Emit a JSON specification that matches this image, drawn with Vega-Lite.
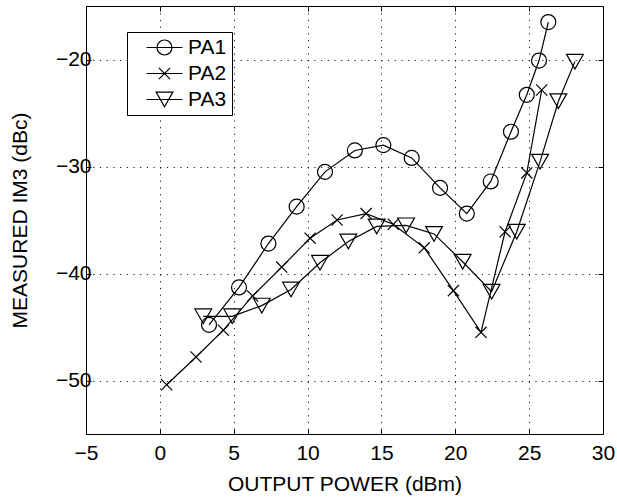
{
  "$schema": "https://vega.github.io/schema/vega-lite/v6.json",
  "width": 517,
  "height": 428,
  "autosize": {"type": "none"},
  "padding": {"left": 86, "top": 6, "right": 14, "bottom": 65},
  "background": "white",
  "config": {
    "font": "Liberation Sans",
    "view": {"stroke": "#000", "strokeWidth": 1},
    "axis": {
      "labelFont": "Liberation Sans",
      "titleFont": "Liberation Sans",
      "labelFontSize": 21,
      "titleFontSize": 21,
      "titleFontWeight": "normal",
      "labelColor": "#000",
      "titleColor": "#000",
      "domain": false,
      "tickColor": "#000",
      "tickSize": -5,
      "gridColor": "#000",
      "gridDash": [1.2, 5.5],
      "gridOpacity": 0.9,
      "gridWidth": 1
    }
  },
  "data": {
    "values": [
      {"series": "PA1", "x": 3.33, "y": -44.8},
      {"series": "PA1", "x": 5.36, "y": -41.3},
      {"series": "PA1", "x": 7.35, "y": -37.2},
      {"series": "PA1", "x": 9.26, "y": -33.75},
      {"series": "PA1", "x": 11.18, "y": -30.5},
      {"series": "PA1", "x": 13.2, "y": -28.5},
      {"series": "PA1", "x": 15.13, "y": -28.0},
      {"series": "PA1", "x": 17.05, "y": -29.2},
      {"series": "PA1", "x": 18.97, "y": -32.0},
      {"series": "PA1", "x": 20.78, "y": -34.4},
      {"series": "PA1", "x": 22.4, "y": -31.4},
      {"series": "PA1", "x": 23.77, "y": -26.75},
      {"series": "PA1", "x": 24.84, "y": -23.3},
      {"series": "PA1", "x": 25.67, "y": -20.1},
      {"series": "PA1", "x": 26.3, "y": -16.5},
      {"series": "PA2", "x": 0.46, "y": -50.4},
      {"series": "PA2", "x": 2.45, "y": -47.8},
      {"series": "PA2", "x": 4.3, "y": -45.3},
      {"series": "PA2", "x": 6.28, "y": -42.1},
      {"series": "PA2", "x": 8.25, "y": -39.4},
      {"series": "PA2", "x": 10.17, "y": -36.7},
      {"series": "PA2", "x": 12.0, "y": -35.0},
      {"series": "PA2", "x": 13.96, "y": -34.4},
      {"series": "PA2", "x": 15.8, "y": -35.4},
      {"series": "PA2", "x": 17.9, "y": -37.6},
      {"series": "PA2", "x": 19.87, "y": -41.6},
      {"series": "PA2", "x": 21.74, "y": -45.5},
      {"series": "PA2", "x": 23.37, "y": -36.1},
      {"series": "PA2", "x": 24.84, "y": -30.6},
      {"series": "PA2", "x": 25.85, "y": -22.85},
      {"series": "PA3", "x": 2.94, "y": -44.0},
      {"series": "PA3", "x": 4.9, "y": -44.0},
      {"series": "PA3", "x": 6.9, "y": -43.0},
      {"series": "PA3", "x": 8.88, "y": -41.5},
      {"series": "PA3", "x": 10.84, "y": -39.0},
      {"series": "PA3", "x": 12.76, "y": -37.0},
      {"series": "PA3", "x": 14.68, "y": -35.6},
      {"series": "PA3", "x": 16.67, "y": -35.5},
      {"series": "PA3", "x": 18.56, "y": -36.3},
      {"series": "PA3", "x": 20.5, "y": -38.9},
      {"series": "PA3", "x": 22.46, "y": -41.7},
      {"series": "PA3", "x": 24.16, "y": -36.1},
      {"series": "PA3", "x": 25.74, "y": -29.55},
      {"series": "PA3", "x": 26.98, "y": -23.9},
      {"series": "PA3", "x": 28.1, "y": -20.2}
    ]
  },
  "layer": [
    {
      "mark": {"type": "line", "color": "#000", "strokeWidth": 1.2},
      "encoding": {
        "x": {
          "field": "x",
          "type": "quantitative",
          "scale": {"domain": [-5, 30], "nice": false, "zero": false},
          "axis": {"orient": "top", "values": [-5, 0, 5, 10, 15, 20, 25, 30], "title": null, "labels": false, "grid": false}
        },
        "y": {
          "field": "y",
          "type": "quantitative",
          "scale": {"domain": [-55, -15], "nice": false, "zero": false},
          "axis": {"orient": "right", "values": [-50, -40, -30, -20], "title": null, "labels": false, "grid": false}
        },
        "detail": {"field": "series"}
      }
    },
    {
      "mark": {"type": "point", "filled": false, "stroke": "#000", "strokeWidth": 1.2, "opacity": 1, "size": 196},
      "encoding": {
        "x": {
          "field": "x",
          "type": "quantitative",
          "scale": {"domain": [-5, 30], "nice": false, "zero": false},
          "axis": {"orient": "bottom", "grid": true, "values": [-5, 0, 5, 10, 15, 20, 25, 30], "title": "OUTPUT POWER (dBm)", "labelPadding": 13, "titleY": 50, "titleBaseline": "middle", "labelFlush": false}
        },
        "y": {
          "field": "y",
          "type": "quantitative",
          "scale": {"domain": [-55, -15], "nice": false, "zero": false},
          "axis": {"orient": "left", "grid": true, "values": [-50, -40, -30, -20], "title": "MEASURED IM3 (dBc)", "labelPadding": 0, "titleX": -66, "titleBaseline": "middle", "labelFlush": false}
        },
        "shape": {
          "field": "series",
          "type": "nominal",
          "scale": {
            "domain": ["PA1", "PA2", "PA3"],
            "range": [
              "M-1.07,0A1.07,1.07 0 1,0 1.07,0A1.07,1.07 0 1,0 -1.07,0Z",
              "M-0.8,-0.8L0.8,0.8M-0.8,0.8L0.8,-0.8",
              "M-1.2,-1.05L1.2,-1.05L0,1.05Z"
            ]
          },
          "legend": null
        }
      }
    },
    {
      "mark": {"type": "point", "filled": false, "stroke": "#000", "strokeWidth": 1.2, "opacity": 0, "size": 196},
      "encoding": {
        "x": {"field": "x", "type": "quantitative", "axis": null},
        "y": {"field": "y", "type": "quantitative", "axis": null},
        "shape": {
          "field": "series",
          "type": "nominal",
          "scale": {
            "domain": ["PA1", "PA2", "PA3"],
            "range": [
              "M-2.57,0L2.57,0M-1.07,0A1.07,1.07 0 1,0 1.07,0A1.07,1.07 0 1,0 -1.07,0Z",
              "M-2.57,0L2.57,0M-0.8,-0.8L0.8,0.8M-0.8,0.8L0.8,-0.8",
              "M-2.57,0L2.57,0M-1.2,-1.05L1.2,-1.05L0,1.05Z"
            ]
          },
          "legend": {
            "title": null,
            "orient": "none",
            "legendX": 41,
            "legendY": 26,
            "fillColor": "white",
            "strokeColor": "#000",
            "padding": 5,
            "rowPadding": 4,
            "labelFont": "Liberation Sans",
            "labelFontSize": 21,
            "labelColor": "#000",
            "labelExpr": "datum.label + '\u00a0\u00a0'",
            "symbolSize": 196,
            "symbolOpacity": 1,
            "symbolStrokeColor": "#000",
            "symbolFillColor": "transparent",
            "symbolStrokeWidth": 1.2,
            "symbolOffset": 22,
            "labelOffset": 13
          }
        }
      }
    }
  ],
  "resolve": {"axis": {"x": "independent", "y": "independent"}, "scale": {"shape": "independent"}}
}
